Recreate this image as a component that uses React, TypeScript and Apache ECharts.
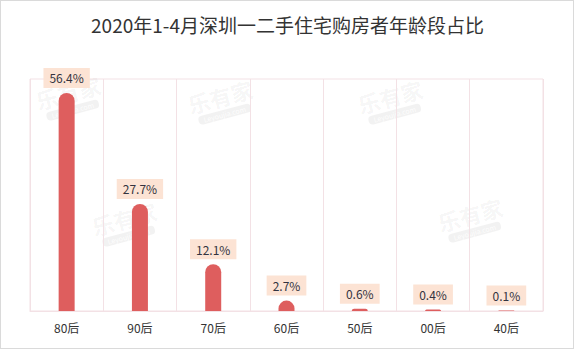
import React, { useEffect, useRef } from "react";
import * as echarts from "echarts";

const categories = ["80后", "90后", "70后", "60后", "50后", "00后", "40后"];
const shares = [56.4, 27.7, 12.1, 2.7, 0.6, 0.4, 0.1];
const titleText = "2020年1-4月深圳一二手住宅购房者年龄段占比";
const watermarkSpots = [
  [70, 100],
  [222, 104],
  [392, 104],
  [126, 226],
  [472, 222],
];

const FONT = "'Noto Sans CJK SC', 'Noto Sans', sans-serif";
const LINE = "#f3e1e5";

function watermark(x: number, y: number) {
  return {
    type: "group",
    x,
    y,
    rotation: 0.26,
    silent: true,
    z: 0,
    children: [
      {
        type: "text",
        x: 0,
        y: -8,
        style: {
          text: "乐有家",
          fontSize: 22,
          fontWeight: "bold",
          fontFamily: FONT,
          fill: "rgba(0,0,0,0.05)",
          align: "center",
          verticalAlign: "middle",
        },
      },
      {
        type: "rect",
        shape: { x: -27, y: 6, width: 54, height: 9, r: 4 },
        style: { fill: "rgba(0,0,0,0.05)" },
      },
      {
        type: "text",
        x: 0,
        y: 10.5,
        style: {
          text: "Leyoujia.com",
          fontSize: 7,
          fontFamily: FONT,
          fill: "rgba(255,255,255,0.9)",
          align: "center",
          verticalAlign: "middle",
        },
      },
    ],
  };
}

export default function App() {
  const ref = useRef<HTMLDivElement>(null);
  useEffect(() => {
    if (!ref.current) return;
    const chart = echarts.init(ref.current, null, { renderer: "svg" });
    chart.setOption({
      animation: false,
      backgroundColor: "#ffffff",
      title: {
        text: titleText,
        left: "center",
        top: 10,
        textStyle: {
          fontSize: 19,
          fontWeight: "normal",
          color: "#333333",
          fontFamily: FONT,
        },
      },
      grid: {
        left: 30,
        right: 32,
        top: 79,
        bottom: 46,
        show: true,
        borderColor: LINE,
        borderWidth: 1,
      },
      xAxis: {
        type: "category",
        data: categories,
        axisLine: { show: true, lineStyle: { color: LINE } },
        axisTick: { show: false },
        splitLine: { show: true, lineStyle: { color: LINE } },
        axisLabel: {
          color: "#333333",
          fontSize: 12,
          margin: 10,
          fontFamily: FONT,
        },
      },
      yAxis: {
        type: "value",
        min: 0,
        max: 60,
        show: false,
        splitLine: { show: false },
      },
      graphic: watermarkSpots.map(([x, y]) => watermark(x, y)),
      series: [
        {
          type: "bar",
          data: shares,
          barWidth: 16,
          z: 5,
          itemStyle: { color: "#de5e5e", borderRadius: [8, 8, 0, 0] },
          label: {
            show: true,
            position: "top",
            distance: 5,
            formatter: (p: any) => p.value + "%",
            color: "#333340",
            fontSize: 12,
            fontFamily: FONT,
            backgroundColor: "#fce3d4",
            padding: [4, 6],
          },
        },
      ],
    });
    return () => chart.dispose();
  }, []);
  return (
    <div
      style={{
        position: "fixed",
        left: 0,
        top: 0,
        width: 575,
        height: 357,
        background: "#fff",
      }}
    >
      <div ref={ref} style={{ position: "absolute", left: 0, top: 0, width: 575, height: 357 }} />
      <div
        style={{
          position: "absolute",
          left: 0,
          top: 0,
          width: 574,
          height: 349,
          boxSizing: "border-box",
          border: "1px solid #dadada",
          pointerEvents: "none",
        }}
      />
    </div>
  );
}
